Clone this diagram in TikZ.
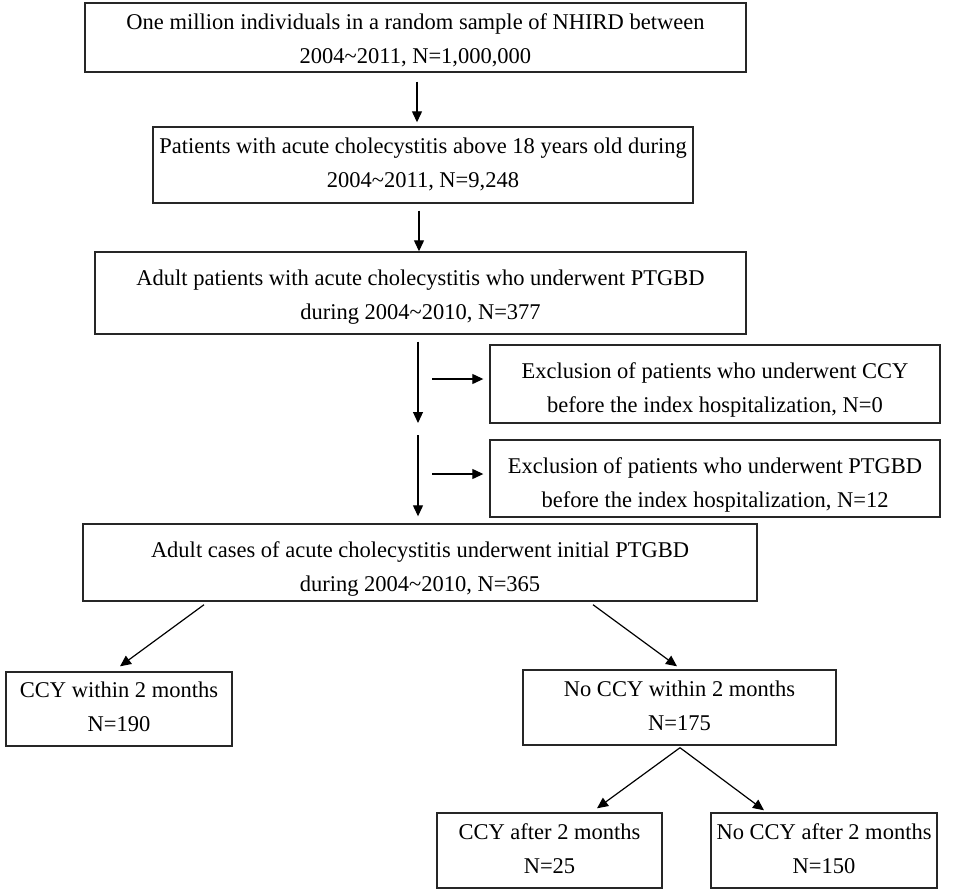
\documentclass[tikz,border=0pt]{standalone}
\usepackage{fontspec}
\setmainfont{Liberation Serif}
\usetikzlibrary{arrows.meta}
\newcommand{\twol}[4]{\rule{0pt}{#1pt}#3\\#4\rule[-#2pt]{0pt}{0pt}}
\begin{document}
\begin{tikzpicture}[x=1pt,y=-1pt,
  box/.style={draw=black!85, line width=1.4pt, rectangle, inner sep=0pt, align=center,
    font=\fontsize{22.5}{34}\selectfont},
  arr/.style={line width=1.2pt, draw=black, -{Triangle[length=11pt,width=10pt]}}]
\useasboundingbox (0,0) rectangle (957,894);
\fill[white] (0,0) rectangle (957,894);
% boxes
\node[box, minimum width=661pt, minimum height=69pt] (n1) at (415.5,37.5)
  {\twol{23}{6}{One million individuals in a random sample of NHIRD between}{2004\textasciitilde 2011, N=1,000,000}};
\node[box, minimum width=540pt, minimum height=76pt] (n2) at (423,165)
  {\twol{16}{6}{Patients with acute cholecystitis above 18 years old during}{2004\textasciitilde 2011, N=9,248}};
\node[box, minimum width=651pt, minimum height=82pt] (n3) at (420.5,293)
  {\twol{24}{6}{Adult patients with acute cholecystitis who underwent PTGBD}{during 2004\textasciitilde 2010, N=377}};
\node[box, minimum width=450pt, minimum height=78pt] (n4) at (715,384)
  {\twol{28}{6}{Exclusion of patients who underwent CCY}{before the index hospitalization, N=0}};
\node[box, minimum width=450pt, minimum height=77pt] (n5) at (715,478.5)
  {\twol{29}{6}{Exclusion of patients who underwent PTGBD}{before the index hospitalization, N=12}};
\node[box, minimum width=674pt, minimum height=77pt] (n6) at (420,562.5)
  {\twol{29}{6}{Adult cases of acute cholecystitis underwent initial PTGBD}{during 2004\textasciitilde 2010, N=365}};
\node[box, minimum width=226pt, minimum height=74pt] (n7) at (119,709)
  {\twol{16}{6}{CCY within 2 months}{N=190}};
\node[box, minimum width=313pt, minimum height=75pt] (n8) at (679.5,707.5)
  {\twol{17}{6}{No CCY within 2 months}{N=175}};
\node[box, minimum width=225pt, minimum height=75pt] (n9) at (549.5,850.5)
  {\twol{17}{6}{CCY after 2 months}{N=25}};
\node[box, minimum width=226pt, minimum height=75pt] (n10) at (824,850.5)
  {\twol{17}{6}{No CCY after 2 months}{N=150}};
% free ends
\coordinate (m1) at (418,423);
\coordinate (m2) at (418,435);
\coordinate (h1) at (432,379);
\coordinate (h2) at (432,474);
% connectors
\draw[arr] ([xshift=1.5pt,yshift=-9pt]n1.south) -- ([xshift=-6pt,yshift=4pt]n2.north);
\draw[arr] ([xshift=-4pt,yshift=-7pt]n2.south) -- ([xshift=-1.5pt]n3.north);
\draw[arr] ([xshift=-2.5pt,yshift=-7pt]n3.south) -- (m1);
\draw[arr] (m2) -- ([xshift=-2pt,yshift=7pt]n6.north);
\draw[arr] (h1) -- ([xshift=-6pt,yshift=5pt]n4.west);
\draw[arr] (h2) -- ([xshift=-6pt,yshift=4.5pt]n5.west);
\draw[arr] ([xshift=-216pt,yshift=-3pt]n6.south) -- ([xshift=1pt,yshift=5pt]n7.north);
\draw[arr] ([xshift=173pt,yshift=-3pt]n6.south) -- ([xshift=-2.5pt,yshift=3pt]n8.north);
\draw[arr] ([xshift=0.5pt,yshift=-2pt]n8.south) -- ([xshift=47.5pt,yshift=4pt]n9.north);
\draw[arr] ([xshift=0.5pt,yshift=-2pt]n8.south) -- ([xshift=-60pt,yshift=2pt]n10.north);
\end{tikzpicture}
\end{document}
